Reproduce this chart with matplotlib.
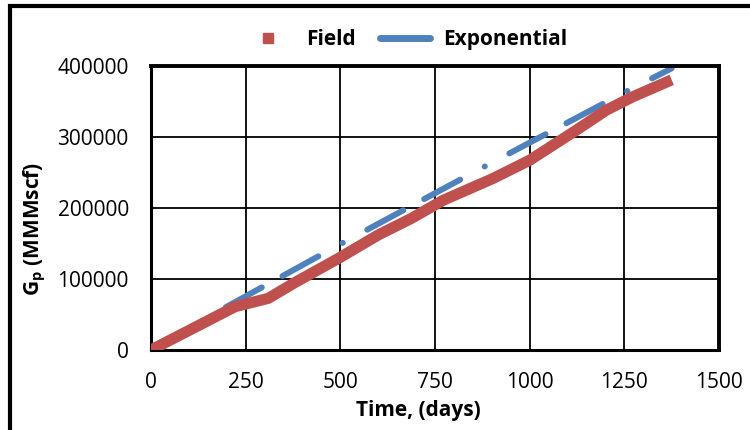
import numpy as np
import matplotlib
matplotlib.use("Agg")
import matplotlib.pyplot as plt
from matplotlib.lines import Line2D
from matplotlib.patches import Rectangle

# cumulative gas production, field record vs exponential decline fit
field_days = [0, 222, 310, 380, 495, 600, 688, 772, 904, 1001, 1124, 1203, 1273, 1375]
field_gp = [0, 61000, 72800, 95000, 129000, 162000, 185500, 211000, 241800, 267600, 309900, 338000, 356800, 380500]

exp_days = [0, 200, 512, 876, 1254, 1375]
exp_gp = [0, 61000, 152500, 257000, 363800, 396700]

x_ticks = [0, 250, 500, 750, 1000, 1250, 1500]
y_ticks = [0, 100000, 200000, 300000, 400000]

plt.rcParams['font.family'] = ['Open Sans', 'DejaVu Sans']
plt.rcParams['lines.scale_dashes'] = False

red = '#C0504D'
blue = '#4F81BD'

fig = plt.figure(figsize=(7.5, 4.3), dpi=100)
ax = fig.add_axes([151 / 750, 1 - 350 / 430, 568 / 750, 284 / 430])

ax.plot(field_days, field_gp, color=red, lw=8, solid_capstyle='butt',
        solid_joinstyle='round', zorder=3)
# long dash, long dash, dot
ax.plot(exp_days, exp_gp, color=blue, lw=4.3, dash_capstyle='round', zorder=2,
        ls=(54, (29.5, 17, 29.5, 20, 0.1, 20)))

ax.set_xlim(0, 1500)
ax.set_ylim(0, 400000)
ax.set_xticks(x_ticks)
ax.set_yticks(y_ticks)
ax.tick_params(length=0, pad=16, labelsize=15)
ax.grid(True, color='black', lw=1.3)
ax.set_axisbelow(True)
for s in ax.spines.values():
    s.set_color('black')
    s.set_linewidth(2.2)
ax.spines['top'].set_linewidth(2.8)
ax.spines['right'].set_linewidth(2.8)

ax.set_xlabel('Time, (days)', fontsize=15, fontweight='bold')
ax.xaxis.set_label_coords(0.47, -0.176)
ax.set_ylabel(r'G$_\mathregular{p}$ (MMMscf)', fontsize=15, fontweight='bold')
ax.yaxis.set_label_coords(-0.181, 0.426)

handles = [
    Line2D([], [], color=red, marker='s', ms=7, ls='none'),
    Line2D([], [], color=blue, lw=5, solid_capstyle='round'),
]
fig.legend(handles, ['Field', 'Exponential'], loc='center', bbox_to_anchor=(0.54, 0.907),
           ncol=2, frameon=False, handlelength=2.4, handletextpad=0.6,
           columnspacing=1.2, prop={'weight': 'bold', 'size': 15})

# outer chart border
fig.patches.append(Rectangle((10 / 750, -0.05), 1.1, 1 - 6 / 430 + 0.05,
                             transform=fig.transFigure, fill=False,
                             edgecolor='black', lw=3, zorder=0))

fig.savefig('out.png', dpi=100)
